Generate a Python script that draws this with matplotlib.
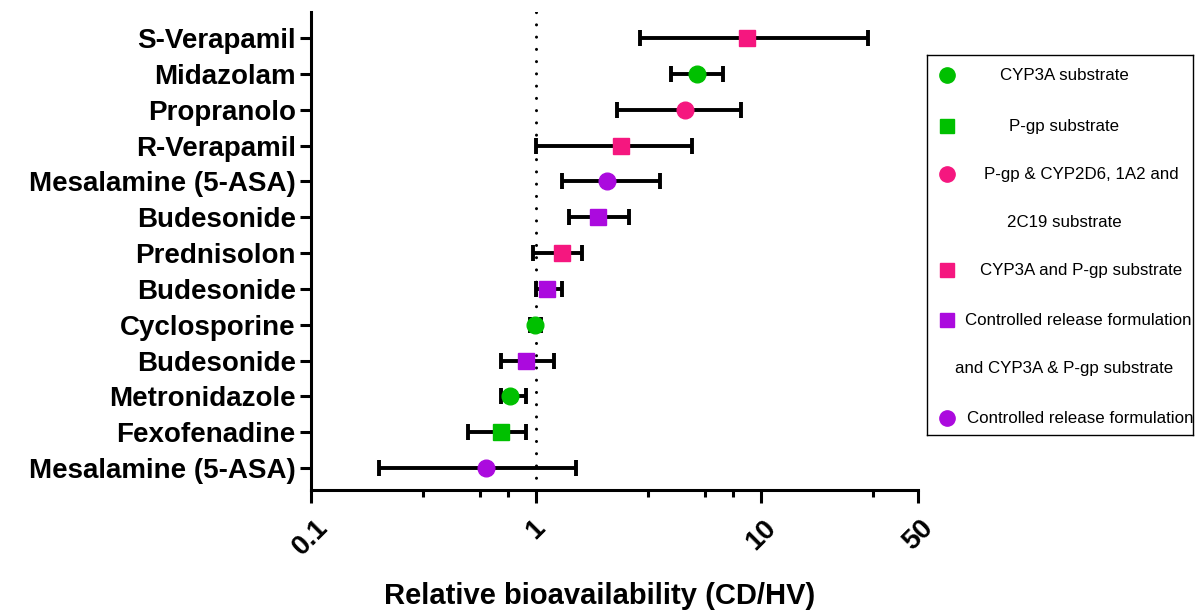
import numpy as np
import matplotlib.pyplot as plt

# data (top to bottom as shown)
drugs = ["S-Verapamil", "Midazolam", "Propranolo", "R-Verapamil", "Mesalamine (5-ASA)",
         "Budesonide", "Prednisolon", "Budesonide", "Cyclosporine", "Budesonide",
         "Metronidazole", "Fexofenadine", "Mesalamine (5-ASA)"]
ratio = [8.7, 5.2, 4.6, 2.38, 2.08, 1.89, 1.30, 1.12, 0.99, 0.90, 0.77, 0.70, 0.60]
ci_low = [2.89, 3.99, 2.29, 1.0, 1.30, 1.40, 0.97, 1.0, 0.94, 0.70, 0.70, 0.50, 0.20]
ci_high = [29.9, 6.8, 8.17, 4.92, 3.58, 2.59, 1.60, 1.31, 1.05, 1.20, 0.90, 0.90, 1.51]
# category index into legend lists
group = [3, 0, 2, 3, 5, 4, 3, 4, 0, 4, 0, 1, 5]

cat_labels = ["CYP3A substrate", "P-gp substrate",
              "P-gp & CYP2D6, 1A2 and\n2C19 substrate", "CYP3A and P-gp substrate",
              "Controlled release formulation\nand CYP3A & P-gp substrate",
              "Controlled release formulation"]
cat_markers = ["o", "s", "o", "s", "s", "o"]
green = "#00c000"
pink = "#f5177f"
purple = "#ab0ade"
cat_colors = [green, green, pink, pink, purple, purple]

plt.rcParams["font.family"] = ["Liberation Sans", "DejaVu Sans"]

fig = plt.figure(figsize=(11.96, 6.13), dpi=100)
ax = fig.add_axes([311 / 1196, 1 - 490 / 613, (918 - 311) / 1196, (490 - 12) / 613])

n = len(drugs)
ypos = np.arange(n)[::-1]
ratio = np.array(ratio)
lo = ratio - np.array(ci_low)
hi = np.array(ci_high) - ratio

ax.axvline(1, color="black", lw=2.2, linestyle=(0, (0.01, 4.0)),
           dash_capstyle="round", zorder=1)

ax.errorbar(ratio, ypos, xerr=[lo, hi], fmt="none", ecolor="black",
            elinewidth=2.8, capsize=5.5, capthick=2.8, zorder=2)
for i in range(n):
    g = group[i]
    ms = 12 if cat_markers[g] == "o" else 11.5
    ax.plot(ratio[i], ypos[i], marker=cat_markers[g], color=cat_colors[g],
            ms=ms, mec=cat_colors[g], linestyle="none", zorder=3)

ax.set_xscale("log")
ax.set_xlim(0.1, 50)
ax.set_ylim(-0.61, 12.73)

major = [0.1, 1, 10, 50]
ax.set_xticks(major)
ax.set_xticklabels(["0.1", "1", "10", "50"], rotation=45, ha="center",
                   fontsize=20, fontweight="bold")
minor = [10 ** (k + f) for k in (-1, 0, 1) for f in (0.5, 0.75, 0.875)]
minor = [m for m in minor if m < 50]
ax.set_xticks(minor, minor=True)
ax.set_xticklabels([], minor=True)
ax.set_yticks(ypos)
ax.set_yticklabels(drugs, fontsize=20, fontweight="bold")

ax.tick_params(axis="x", which="major", length=9, width=2.2, pad=9)
ax.tick_params(axis="x", which="minor", length=5, width=2.2)
ax.tick_params(axis="y", length=8, width=2.2, pad=3)

for s in ["top", "right"]:
    ax.spines[s].set_visible(False)
for s in ["left", "bottom"]:
    ax.spines[s].set_linewidth(2.2)

ax.set_xlabel("Relative bioavailability (CD/HV)", fontsize=21, fontweight="bold")
ax.xaxis.set_label_coords(0.476, -0.192)

# legend box
lax = fig.add_axes([927 / 1196, 1 - 435 / 613, 266 / 1196, 380 / 613])
lax.set_xlim(927, 1193)
lax.set_ylim(435, 55)
lax.set_xticks([])
lax.set_yticks([])
for s in lax.spines.values():
    s.set_linewidth(1.0)

row_y = [75, 126, 174, 270, 320, 418]
text_x = [1064, 1064, 1081, 1081, 1078, 1080]
for g in range(len(cat_labels)):
    lax.plot(947, row_y[g], marker=cat_markers[g], color=cat_colors[g],
             ms=11 if cat_markers[g] == "o" else 10.5, linestyle="none")
    lines = cat_labels[g].split("\n")
    for j, line in enumerate(lines):
        x = text_x[g] if j == 0 else 1064
        lax.text(x, row_y[g] + 48 * j, line, ha="center", va="center", fontsize=12.2)

fig.savefig("out.png", dpi=100)
